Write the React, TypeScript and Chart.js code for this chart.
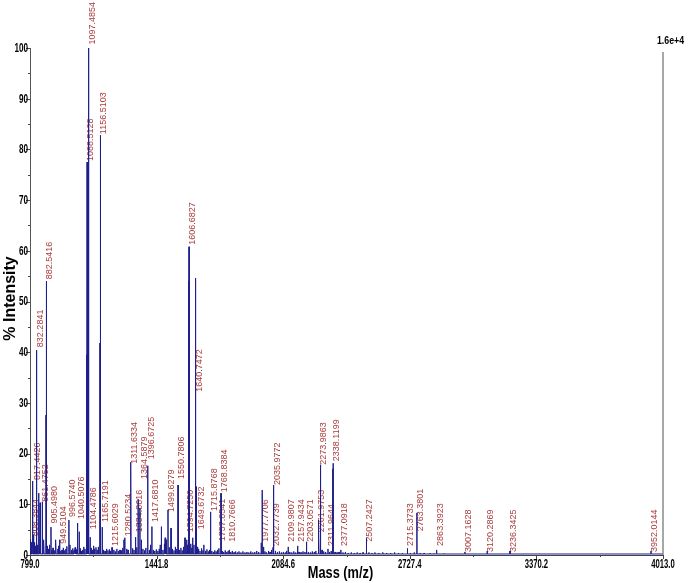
import React, { useEffect, useRef } from 'react';
import { Chart, registerables } from 'chart.js';

Chart.register(...registerables);

// ---- data ----
const peakMasses = [
  803.5, 808.38, 811.0, 817.44, 832.28, 843.2, 849.8, 861.48, 880.0, 882.54,
  905.5, 931.0, 949.51, 996.57, 1002.0, 1040.51, 1049.0, 1085.5, 1088.51, 1094.0,
  1097.49, 1104.48, 1134.0, 1153.5, 1156.51, 1165.72, 1215.6, 1276.0, 1280.52, 1309.0,
  1311.63, 1334.86, 1348.0, 1357.0, 1364.59, 1396.67, 1417.68, 1466.0, 1485.0, 1490.0,
  1499.63, 1515.0, 1550.78, 1586.0, 1594.73, 1605.0, 1606.68, 1625.0, 1638.0, 1640.75,
  1644.0, 1649.67, 1682.0, 1715.88, 1757.85, 1768.84, 1810.77, 1973.0, 1977.77, 1985.0,
  2032.77, 2035.98, 2109.98, 2157.94, 2203.06, 2261.98, 2266.0, 2273.99, 2311.96, 2336.0,
  2338.12, 2377.09, 2507.24, 2715.37, 2763.38, 2863.39, 3007.16, 3120.29, 3236.34, 3952.01,
];
const peakIntensities = [
  3.0, 2.5, 14.6, 4.0, 40.4, 12.2, 10.3, 10.5, 27.6, 54.0,
  5.5, 3.0, 3.0, 6.9, 2.0, 6.3, 4.6, 39.5, 77.5, 10.0,
  100.0, 3.5, 1.5, 41.8, 82.8, 5.5, 1.5, 3.0, 3.4, 6.9,
  18.3, 3.5, 11.0, 9.3, 3.0, 17.6, 5.6, 5.6, 3.4, 3.0,
  8.9, 5.3, 13.8, 3.4, 3.0, 54.0, 60.8, 3.4, 54.6, 31.0,
  13.5, 1.6, 2.0, 8.5, 1.3, 12.2, 1.0, 2.4, 12.8, 1.6,
  1.5, 13.8, 1.6, 1.8, 2.6, 6.9, 6.5, 17.8, 1.2, 17.0,
  18.1, 1.0, 3.4, 1.3, 8.3, 1.0, 0.6, 0.8, 0.8, 0.8,
];

const noiseMasses = [
  800.5, 806, 814, 822, 826, 836, 846, 853, 866, 870, 887, 893, 898, 910, 916, 922, 927, 940, 944, 955,
  962, 968, 975, 981, 986, 1010, 1016, 1022, 1028, 1033, 1055, 1060, 1066, 1072, 1078, 1110, 1116, 1122, 1127, 1140,
  1146, 1172, 1180, 1188, 1195, 1202, 1208, 1225, 1232, 1240, 1248, 1256, 1263, 1270, 1290, 1297, 1320, 1327, 1341, 1372,
  1380, 1387, 1405, 1411, 1425, 1432, 1440, 1448, 1455, 1460, 1474, 1480, 1506, 1522, 1530, 1537, 1544, 1558, 1565, 1572,
  1579, 1598, 1615, 1620, 1631, 1655, 1662, 1670, 1677, 1690, 1697, 1704, 1710, 1722, 1730, 1737, 1744, 1751, 1775, 1782,
  1790, 1798, 1805, 1818, 1826, 1835, 1843, 1852, 1860, 1870, 1880, 1890, 1900, 1910, 1920, 1930, 1940, 1950, 1960, 1992,
  2000, 2010, 2018, 2025, 2045, 2055, 2065, 2075, 2085, 2095, 2102, 2118, 2128, 2138, 2148, 2165, 2175, 2185, 2195, 2212,
  2222, 2232, 2242, 2250, 2282, 2290, 2300, 2320, 2328, 2348, 2358, 2368, 2388, 2400, 2415, 2430, 2445, 2460, 2475, 2490,
  2520, 2535, 2550, 2570, 2590, 2610, 2630, 2650, 2670, 2690, 2730, 2750, 2780, 2800, 2830, 2850, 2900,
];
const noiseIntensities = [
  1.2, 2.0, 1.5, 2.5, 1.8, 2.0, 1.6, 2.2, 1.5, 3.0, 1.8, 1.2, 2.0, 1.0, 1.4, 0.9, 1.6, 1.2, 1.8, 0.8,
  1.0, 1.4, 0.9, 1.2, 1.7, 1.0, 1.3, 0.9, 1.5, 1.1, 1.3, 0.8, 1.0, 1.6, 1.2, 1.4, 1.0, 1.8, 1.2, 1.0,
  1.6, 1.0, 0.8, 1.2, 0.9, 1.1, 0.8, 1.0, 0.7, 1.2, 0.8, 1.0, 0.9, 1.4, 1.2, 1.0, 1.3, 1.0, 1.5, 1.2,
  0.9, 1.4, 1.0, 2.0, 1.0, 0.8, 1.1, 0.8, 1.2, 2.0, 1.0, 2.2, 1.5, 1.2, 0.9, 1.6, 1.2, 1.0, 1.4, 0.9,
  1.6, 2.0, 2.2, 1.4, 2.0, 1.2, 0.8, 1.3, 0.9, 0.8, 1.1, 0.7, 1.0, 0.8, 0.6, 0.9, 0.7, 1.0, 0.8, 0.6,
  0.9, 0.6, 0.8, 0.6, 0.8, 0.5, 0.7, 0.5, 0.7, 0.5, 0.7, 0.5, 0.6, 0.5, 0.7, 0.5, 0.6, 0.8, 0.6, 0.7,
  0.5, 0.8, 0.6, 1.0, 0.8, 0.6, 0.7, 0.5, 0.6, 0.5, 0.8, 0.6, 0.5, 0.7, 0.5, 0.6, 0.5, 0.7, 0.6, 0.6,
  0.5, 0.7, 0.6, 0.8, 1.0, 0.7, 0.6, 0.6, 0.8, 0.6, 0.5, 0.6, 0.5, 0.6, 0.4, 0.5, 0.4, 0.5, 0.4, 0.5,
  0.5, 0.4, 0.5, 0.4, 0.5, 0.4, 0.4, 0.5, 0.4, 0.4, 0.4, 0.5, 0.4, 0.4, 0.3, 0.3, 0.3,
];

const labelTexts = [
  '808.3844', '817.4426', '832.2841', '861.4752', '882.5416', '905.4980', '949.5104', '996.5740', '1040.5076', '1088.5128',
  '1097.4854', '1104.4786', '1156.5103', '1165.7191', '1215.6029', '1280.5234', '1311.6334', '1334.8616', '1364.5879', '1396.6725',
  '1417.6810', '1499.6279', '1550.7806', '1594.7250', '1606.6827', '1640.7472', '1649.6732', '1715.8768', '1757.8541', '1768.8384',
  '1810.7666', '1977.7706', '2032.7739', '2035.9772', '2109.9807', '2157.9434', '2203.0571', '2261.9753', '2273.9863', '2311.9644',
  '2338.1199', '2377.0918', '2507.2427', '2715.3733', '2763.3801', '2863.3923', '3007.1628', '3120.2869', '3236.3425', '3952.0144',
];
const labelLevels = [
  3.5, 14.6, 40.8, 10.3, 54.2, 6.0, 2.0, 7.3, 6.9, 77.5,
  100.5, 4.9, 82.8, 6.3, 1.6, 3.5, 17.8, 4.3, 14.8, 18.7,
  6.3, 8.3, 14.8, 4.3, 61.0, 32.0, 4.9, 8.5, 2.5, 12.2,
  2.4, 2.4, 1.6, 13.6, 2.4, 2.4, 2.4, 4.3, 17.6, 1.6,
  18.3, 1.6, 2.4, 1.6, 4.5, 1.6, 0.4, 0.4, 0.4, 0.4,
];

const xMajorTicks = [799.0, 1441.8, 2084.6, 2727.4, 3370.2, 4013.0];
const yMajorTicks = [0, 10, 20, 30, 40, 50, 60, 70, 80, 90, 100];
const scaleText = '1.6e+4';
const xTitle = 'Mass (m/z)';
const yTitle = '% Intensity';

// ---- helpers ----
const SANS = '"Liberation Sans", Arial, sans-serif';
const LINE_COLOR = '#1e1e8c';
const LABEL_COLOR = '#a83c3c';

const xTickValues: number[] = [];
xMajorTicks.forEach((v, i) => {
  xTickValues.push(v);
  if (i < xMajorTicks.length - 1) xTickValues.push((v + xMajorTicks[i + 1]) / 2);
});
const yTickValues: number[] = [];
yMajorTicks.forEach((v, i) => {
  yTickValues.push(v);
  if (i < yMajorTicks.length - 1) yTickValues.push((v + yMajorTicks[i + 1]) / 2);
});

function buildSpectrum() {
  const all: { m: number; h: number }[] = [];
  peakMasses.forEach((m, i) => all.push({ m, h: peakIntensities[i] }));
  noiseMasses.forEach((m, i) => all.push({ m, h: noiseIntensities[i] }));
  all.sort((a, b) => a.m - b.m);
  const pts: { x: number; y: number }[] = [{ x: xMajorTicks[0], y: 0.2 }];
  all.forEach(({ m, h }) => {
    pts.push({ x: m - 0.6, y: 0.2 });
    pts.push({ x: m, y: h });
    pts.push({ x: m + 0.6, y: 0.2 });
  });
  pts.push({ x: xMajorTicks[xMajorTicks.length - 1], y: 0.2 });
  return pts;
}

function narrowText(ctx: any, txt: string, x: number, y: number, sx: number, align: string, base: string, rot = 0) {
  ctx.save();
  ctx.translate(x, y);
  if (rot) ctx.rotate(rot);
  ctx.scale(sx, 1);
  ctx.textAlign = align;
  ctx.textBaseline = base;
  ctx.fillText(txt, 0, 0);
  ctx.restore();
}

const labelPlugin = {
  id: 'peakLabels',
  beforeDatasetsDraw(chart: any) {
    const { ctx, scales } = chart;
    const x = scales.x;
    const y = scales.y;
    ctx.save();
    ctx.font = '9px ' + SANS;
    ctx.fillStyle = LABEL_COLOR;
    ctx.textAlign = 'left';
    ctx.textBaseline = 'middle';
    labelTexts.forEach((txt, i) => {
      const m = parseFloat(txt);
      const px = x.getPixelForValue(m) + 3.5;
      const py = y.getPixelForValue(labelLevels[i]) - 1;
      ctx.save();
      ctx.translate(px, py);
      ctx.rotate(-Math.PI / 2);
      ctx.fillText(txt, 0, 0);
      ctx.restore();
    });
    ctx.restore();
  },
  afterDraw(chart: any) {
    const { ctx, chartArea: a, scales } = chart;
    const x = scales.x;
    const y = scales.y;
    ctx.save();
    // tick marks
    ctx.strokeStyle = '#444';
    ctx.lineWidth = 1;
    ctx.beginPath();
    x.ticks.forEach((t: any) => {
      const px = Math.round(x.getPixelForValue(t.value)) + 0.5;
      const major = xMajorTicks.includes(t.value);
      ctx.moveTo(px, a.bottom);
      ctx.lineTo(px, a.bottom + (major ? 4 : 2));
    });
    y.ticks.forEach((t: any) => {
      const py = Math.round(y.getPixelForValue(t.value)) + 0.5;
      const major = yMajorTicks.includes(t.value);
      ctx.moveTo(a.left, py);
      ctx.lineTo(a.left - (major ? 4 : 2), py);
    });
    ctx.stroke();

    // tick labels (condensed bold)
    ctx.fillStyle = '#000';
    ctx.font = 'bold 12px ' + SANS;
    xMajorTicks.forEach((v) => {
      narrowText(ctx, v.toFixed(1), x.getPixelForValue(v), a.bottom + 4, 0.64, 'center', 'top');
    });
    yMajorTicks.forEach((v) => {
      narrowText(ctx, String(v), a.left - 2, y.getPixelForValue(v) + 0.5, 0.68, 'right', 'middle');
    });

    // axis titles
    ctx.font = 'bold 16px ' + SANS;
    narrowText(ctx, xTitle, (a.left + a.right) / 2 - 6, a.bottom + 23, 0.8, 'center', 'alphabetic');
    narrowText(ctx, yTitle, 15, (a.top + a.bottom) / 2 - 3, 1.0, 'center', 'alphabetic', -Math.PI / 2);

    // right scale line + absolute intensity
    ctx.strokeStyle = '#8a8a8a';
    ctx.lineWidth = 1.5;
    ctx.beginPath();
    ctx.moveTo(a.right, a.top + 4);
    ctx.lineTo(a.right, a.bottom);
    ctx.stroke();
    ctx.fillStyle = '#000';
    ctx.font = 'bold 11px ' + SANS;
    narrowText(ctx, scaleText, a.right + 7.5, a.top - 4, 0.8, 'center', 'alphabetic');
    ctx.restore();
  },
};

export default function App() {
  const ref = useRef<HTMLCanvasElement>(null);
  useEffect(() => {
    document.body.style.margin = '0';
    const canvas = ref.current;
    if (!canvas) return;
    const chart = new Chart(canvas, {
      type: 'line',
      data: {
        datasets: [
          {
            data: buildSpectrum(),
            borderColor: LINE_COLOR,
            borderWidth: 1,
            pointRadius: 0,
            tension: 0,
            fill: false,
          },
        ],
      },
      options: {
        animation: false,
        responsive: false,
        devicePixelRatio: 1,
        layout: { padding: { left: 0, right: 25, top: 48, bottom: 0 } },
        plugins: { legend: { display: false }, tooltip: { enabled: false } },
        scales: {
          x: {
            type: 'linear',
            min: xMajorTicks[0],
            max: xMajorTicks[xMajorTicks.length - 1],
            afterBuildTicks: (s: any) => {
              s.ticks = xTickValues.map((v) => ({ value: v }));
            },
            afterFit: (s: any) => {
              s.height = 28;
            },
            grid: { display: false, drawTicks: false },
            border: { display: true, color: '#444', width: 1 },
            ticks: { display: false },
            title: { display: false },
          },
          y: {
            type: 'linear',
            min: 0,
            max: 100,
            afterBuildTicks: (s: any) => {
              s.ticks = yTickValues.map((v) => ({ value: v }));
            },
            afterFit: (s: any) => {
              s.width = 30;
            },
            grid: { display: false, drawTicks: false },
            border: { display: true, color: '#555', width: 1 },
            ticks: { display: false },
            title: { display: false },
          },
        },
      },
      plugins: [labelPlugin],
    } as any);
    return () => chart.destroy();
  }, []);
  return (
    <div style={{ width: 688, height: 583, background: '#fff' }}>
      <canvas ref={ref} width={688} height={583} style={{ display: 'block' }} />
    </div>
  );
}
